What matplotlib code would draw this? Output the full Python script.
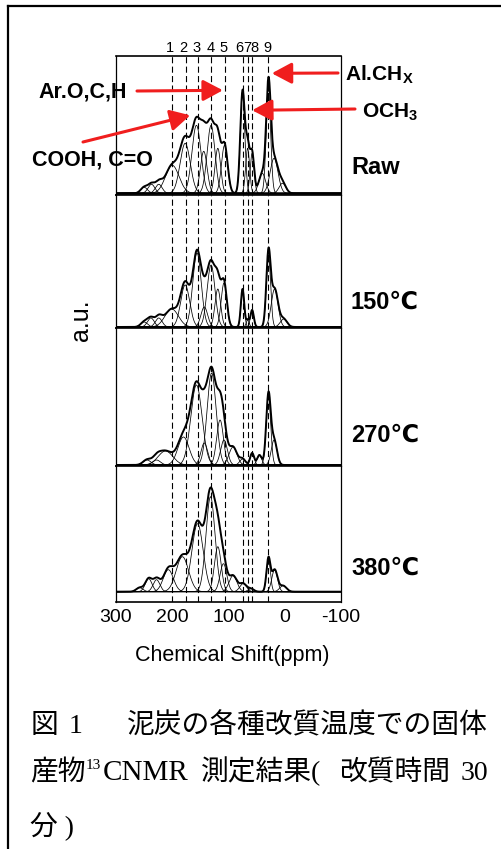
import numpy as np
import matplotlib
matplotlib.use("Agg")
import matplotlib.pyplot as plt
from matplotlib.lines import Line2D

plt.rcParams['font.family'] = ['Liberation Sans', 'DejaVu Sans']
plt.rcParams['mathtext.fontset'] = 'custom'
plt.rcParams['mathtext.rm'] = 'Liberation Sans'
plt.rcParams['mathtext.bf'] = 'Liberation Sans:bold'

# fitted peak components per sample: centre (ppm), height (a.u.), width sigma (ppm)
raw_center = [250, 237, 224, 200, 177, 157, 144, 131, 119, 107, 75, 66, 58, 40, 29, 19, 4]
raw_height = [6, 9, 9, 28, 50, 68, 42, 68, 45, 48, 102, 45, 40, 20, 100, 35, 10]
raw_sigma = [6, 6, 6, 12, 9, 8, 6, 7, 5, 5.5, 4, 3.5, 3.5, 6, 4, 7, 6]

t150_center = [250, 238, 224, 201, 177, 156, 143, 131, 119, 108, 75, 66, 58, 29, 18, 2]
t150_height = [5, 9, 9, 18, 42, 74, 20, 62, 38, 44, 38, 7, 17, 72, 38, 8]
t150_sigma = [6, 6, 6, 12, 8, 7.5, 6, 7, 5, 5, 3, 2.5, 3, 3.8, 6, 6]

t270_center = [245, 228, 212, 180, 157, 143, 130, 115, 108, 92, 75, 58, 45, 29, 19]
t270_height = [5, 5, 14, 28, 80, 22, 92, 45, 25, 18, 6, 12, 10, 70, 25]
t270_sigma = [7, 7, 13, 10, 10, 6, 8, 6, 6, 7, 5, 3.5, 4, 4, 5]

t380_center = [258, 242, 228, 207, 182, 155, 132, 119, 109, 92, 74, 60, 29, 18, 3]
t380_height = [4, 13, 12, 22, 35, 68, 95, 45, 28, 16, 8, 3, 33, 22, 6]
t380_sigma = [6, 6, 6, 9, 11, 10, 8, 6, 6, 7, 6, 5, 3.5, 5, 6]

samples = ['Raw', '150℃', '270℃', '380℃']
centers = [raw_center, t150_center, t270_center, t380_center]
heights = [raw_height, t150_height, t270_height, t380_height]
sigmas = [raw_sigma, t150_sigma, t270_sigma, t380_sigma]

# assigned peak positions (dashed lines) and their labels
peak_ppm = [200, 176, 154, 131, 106, 75, 66, 58, 29]
peak_label = ['1', '2', '3', '4', '5', '6', '7', '8', '9']
label_ppm = [204, 181, 156, 131, 108, 81, 67, 53, 30]

xticks = [300, 200, 100, 0, -100]

W, H = 502, 849


def fig_xy(x, y):
    return x / W, 1 - y / H


fig, axes = plt.subplots(4, 1, sharex=True, figsize=(W / 100, H / 100), dpi=100,
                         gridspec_kw={'height_ratios': [139, 133, 138, 136], 'hspace': 0})
fig.subplots_adjust(left=116 / W, right=341 / W, top=1 - 56 / H, bottom=1 - 602 / H)

ylims = [(-1.7, 137.3), (-1.0, 132.0), (-1.0, 137.0), (-10.3, 125.7)]

ppm = np.linspace(300, -100, 1601)
for ax, c, h, s, yl in zip(axes, centers, heights, sigmas, ylims):
    total = np.zeros_like(ppm)
    for ci, hi, si in zip(c, h, s):
        comp = hi * np.exp(-(ppm - ci) ** 2 / (2 * si ** 2))
        total += comp
        ax.plot(ppm, comp, color='black', lw=0.55)
    ax.plot(ppm, total, color='black', lw=1.4)
    for p in peak_ppm:
        ax.axvline(p, color='black', lw=0.8, ls=(0, (5.5, 3)))
    ax.set_ylim(*yl)
    ax.set_yticks([])
    ax.tick_params(axis='x', length=0, pad=5, labelsize=14)
    for side in ['left', 'right']:
        ax.spines[side].set_linewidth(0.9)
    for side in ['top', 'bottom']:
        ax.spines[side].set_linewidth(1.2)

axes[-1].set_xlim(300, -100)
axes[-1].set_xticks(xticks)
axes[-1].set_xticklabels([str(t) for t in xticks])

top = axes[0]
for lp, lab in zip(label_ppm, peak_label):
    top.text(lp, 1.058, lab, transform=top.get_xaxis_transform(), ha='center',
             va='center', fontsize=10.5)

# sample names
label_y = [168, 302, 435, 568]
for name, y in zip(samples, label_y):
    fig.text(*fig_xy(351, y), name, ha='left', va='center', fontsize=17, fontweight='bold')

fig.text(*fig_xy(81, 320), 'a.u.', rotation=90, ha='center', va='center', fontsize=18)
fig.text(*fig_xy(232, 655), 'Chemical Shift(ppm)', ha='center', va='center', fontsize=15.5)

# functional group annotations
red = '#f01e1e'
arrow = dict(arrowstyle='-|>,head_length=0.6,head_width=0.32', color=red, lw=2.2,
             mutation_scale=20, shrinkA=0, shrinkB=0)
fig.text(*fig_xy(38, 92), 'Ar.O,C,H', ha='left', va='center', fontsize=15.5, fontweight='bold')
fig.text(*fig_xy(32, 160), 'COOH, C=O', ha='left', va='center', fontsize=15.5, fontweight='bold')
fig.text(*fig_xy(345, 75), r'Al.CH$_\mathbf{X}$', ha='left', va='center', fontsize=15,
         fontweight='bold')
fig.text(*fig_xy(362, 112), r'OCH$_\mathbf{3}$', ha='left', va='center', fontsize=15,
         fontweight='bold')

top.annotate('', xy=(110, 103), xytext=fig_xy(137, 91), textcoords='figure fraction',
             arrowprops=arrow, annotation_clip=False)
top.annotate('', xy=(168, 78), xytext=fig_xy(83, 142), textcoords='figure fraction',
             arrowprops=arrow, annotation_clip=False)
top.annotate('', xy=(23, 120), xytext=fig_xy(338, 73), textcoords='figure fraction',
             arrowprops=arrow, annotation_clip=False)
top.annotate('', xy=(58, 83), xytext=fig_xy(355, 109), textcoords='figure fraction',
             arrowprops=arrow, annotation_clip=False)

# page frame
fig.add_artist(Line2D([8 / W, 1], [1 - 6 / H, 1 - 6 / H], color='black', lw=1.6,
                      transform=fig.transFigure))
fig.add_artist(Line2D([8 / W, 8 / W], [1 - 6 / H, 0], color='black', lw=1.6,
                      transform=fig.transFigure))

# caption
cap_font = ['Liberation Serif', 'Noto Sans CJK JP']
fig.text(*fig_xy(31, 733), '図', family=cap_font, fontsize=20, va='baseline')
fig.text(*fig_xy(69, 733), '1', family=cap_font, fontsize=20, va='baseline')
fig.text(*fig_xy(127, 733), '泥炭の各種改質温度での固体', family=cap_font, fontsize=20,
         va='baseline')
fig.text(*fig_xy(30, 780), '産物', family=cap_font, fontsize=20, va='baseline')
fig.text(*fig_xy(86, 769), '13', family=cap_font, fontsize=11, va='baseline')
fig.text(*fig_xy(103, 780), 'CNMR', family=cap_font, fontsize=21, va='baseline')
fig.text(*fig_xy(201, 780), '測定結果(', family=cap_font, fontsize=20, va='baseline')
fig.text(*fig_xy(339, 780), '改質時間', family=cap_font, fontsize=20, va='baseline')
fig.text(*fig_xy(461, 780), '30', family=cap_font, fontsize=20, va='baseline')
fig.text(*fig_xy(30, 834), '分 )', family=cap_font, fontsize=20, va='baseline')

fig.savefig('out.png', dpi=100)
